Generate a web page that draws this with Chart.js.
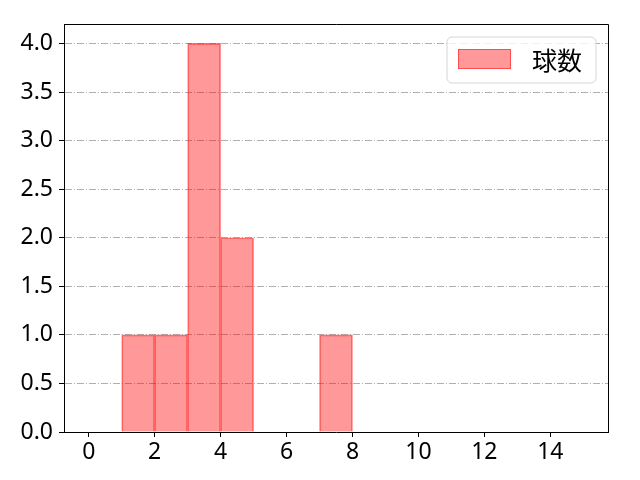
<!DOCTYPE html>
<html>
<head>
<meta charset="utf-8">
<script src="https://cdn.jsdelivr.net/npm/chart.js@4/dist/chart.umd.min.js"></script>
<style>
html, body { margin: 0; padding: 0; background: #fff; }
#wrap { width: 640px; height: 480px; }
</style>
</head>
<body>
<div id="wrap"><canvas id="myChart" width="640" height="480"></canvas></div>
<script>
// histogram bins (left edges), bin width and counts
var binStarts = [1, 2, 3, 4, 7];
var binWidth = 1;
var counts = [1, 1, 4, 2, 1];
var seriesName = '球数';
var xTicks = [0, 2, 4, 6, 8, 10, 12, 14];
var yTicks = [0, 0.5, 1.0, 1.5, 2.0, 2.5, 3.0, 3.5, 4.0];

var tickFont = { family: '"Noto Sans", "Noto Sans CJK JP", sans-serif', size: 23 };

// draws the top/right frame like matplotlib
var framePlugin = {
    id: 'frame',
    afterDraw: function (chart) {
        var a = chart.chartArea, ctx = chart.ctx;
        ctx.save();
        ctx.strokeStyle = '#000';
        ctx.lineWidth = 1;
        ctx.beginPath();
        ctx.moveTo(Math.round(a.left), Math.round(a.top) + 0.5);
        ctx.lineTo(Math.round(a.right) + 0.5, Math.round(a.top) + 0.5);
        ctx.lineTo(Math.round(a.right) + 0.5, Math.round(a.bottom));
        ctx.stroke();
        ctx.restore();
    }
};

// legend box inside the plot, upper right
var innerLegend = {
    id: 'innerLegend',
    afterDraw: function (chart) {
        var a = chart.chartArea, ctx = chart.ctx;
        var ds = chart.data.datasets[0];
        var w = 149, h = 46, r = 5;
        var x = a.right - 12 - w, y = a.top + 13;
        ctx.save();
        ctx.beginPath();
        ctx.moveTo(x + r, y);
        ctx.lineTo(x + w - r, y);
        ctx.arcTo(x + w, y, x + w, y + r, r);
        ctx.lineTo(x + w, y + h - r);
        ctx.arcTo(x + w, y + h, x + w - r, y + h, r);
        ctx.lineTo(x + r, y + h);
        ctx.arcTo(x, y + h, x, y + h - r, r);
        ctx.lineTo(x, y + r);
        ctx.arcTo(x, y, x + r, y, r);
        ctx.closePath();
        ctx.fillStyle = 'rgba(255,255,255,0.8)';
        ctx.fill();
        ctx.strokeStyle = '#d6d6d6';
        ctx.lineWidth = 1;
        ctx.stroke();
        // swatch
        ctx.fillStyle = ds.backgroundColor;
        ctx.fillRect(x + 11, y + 12, 53, 20);
        ctx.strokeStyle = ds.borderColor;
        ctx.strokeRect(x + 11.5, y + 12.5, 52, 19);
        // label
        ctx.fillStyle = '#000';
        ctx.font = '25px "Noto Sans CJK JP", sans-serif';
        ctx.textBaseline = 'middle';
        ctx.fillText(ds.label, x + 85, y + 23);
        ctx.restore();
    }
};

var ctx = document.getElementById('myChart').getContext('2d');
var chart = new Chart(ctx, {
    type: 'bar',
    data: {
        datasets: [{
            label: seriesName,
            data: binStarts.map(function (s, i) { return { x: s + binWidth / 2, y: counts[i] }; }),
            backgroundColor: 'rgba(255,0,0,0.4)',
            borderColor: 'rgba(255,0,0,0.5)',
            borderWidth: 1,
            barPercentage: 1,
            categoryPercentage: 1
        }]
    },
    options: {
        responsive: false,
        animation: false,
        devicePixelRatio: 1,
        layout: { padding: { left: 0, top: 24, right: 32, bottom: 0 } },
        plugins: {
            legend: { display: false },
            tooltip: { enabled: false }
        },
        scales: {
            x: {
                type: 'linear',
                min: -0.75,
                max: 15.75,
                bounds: 'data',
                offset: false,
                grid: { offset: false, drawOnChartArea: false, tickLength: 5, tickColor: '#000', tickWidth: 1 },
                border: { color: '#000', width: 1 },
                ticks: { font: tickFont, color: '#000', padding: 2, maxRotation: 0, autoSkip: false },
                afterBuildTicks: function (axis) {
                    axis.ticks = xTicks.map(function (v) { return { value: v }; });
                },
                afterFit: function (axis) { axis.height = 48; }
            },
            y: {
                min: 0,
                max: 4.2,
                bounds: 'data',
                grid: {
                    color: function (c) { return c.tick && c.tick.value === 0 ? 'rgba(0,0,0,0)' : '#b0b0b0'; },
                    lineWidth: 1, tickLength: 5, tickColor: '#000', tickWidth: 1
                },
                border: { color: '#000', width: 1, dash: [7, 2, 1, 2] },
                ticks: {
                    font: tickFont, color: '#000', padding: 6, autoSkip: false,
                    callback: function (v) { return Number(v).toFixed(1); }
                },
                afterBuildTicks: function (axis) {
                    axis.ticks = yTicks.map(function (v) { return { value: v }; });
                },
                afterFit: function (axis) { axis.width = 64; }
            }
        }
    },
    plugins: [framePlugin, innerLegend]
});
</script>
</body>
</html>
